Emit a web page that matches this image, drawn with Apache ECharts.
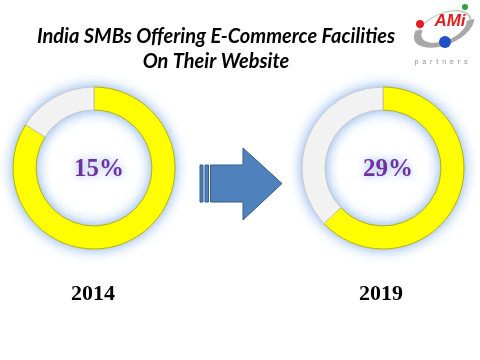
<!DOCTYPE html>
<html><head><meta charset="utf-8">
<script src="https://cdn.jsdelivr.net/npm/echarts@6/dist/echarts.min.js"></script>
<style>html,body{margin:0;padding:0;background:#fff}#c{width:480px;height:360px}</style>
</head><body><div id="c"></div>
<script>
// Data
const years = ['2014', '2019'];
const pctLabels = ['15%', '29%'];
// arc shares as drawn in picture (yellow, grey)
const yellowShare = [84, 63];
const greyShare = [16, 37];
const titleLines = ['India SMBs Offering E-Commerce Facilities', 'On Their Website'];

const centers = [[94, 168], [383, 168]];
const chart = echarts.init(document.getElementById('c'));
const series = [];
years.forEach((y, i) => {
  series.push({
    type: 'pie', silent: true, radius: [58, 81], center: centers[i], startAngle: 90,
    label: {show: false}, z: 1,
    itemStyle: {color: '#ffffff', shadowBlur: 14, shadowColor: 'rgba(90,150,230,0.85)'},
    data: [{value: 1, name: 'glow'}]
  });
  series.push({
    type: 'pie', silent: true, radius: [58, 81], center: centers[i], startAngle: 90, clockwise: true,
    label: {show: false}, z: 2,
    data: [
      {value: yellowShare[i], name: 'Yes', itemStyle: {color: '#ffff00', borderColor: '#b8b000', borderWidth: 1}},
      {value: greyShare[i], name: 'No', itemStyle: {color: '#f2f2f2', borderColor: '#c8c8c8', borderWidth: 1}}
    ]
  });
});

const titleStyle = {fontFamily: 'Lato', fontStyle: 'italic', fontWeight: 'bold', fontSize: 20, color: '#000'};
const titles = [
  {text: titleLines[0], left: 211, top: 22, textAlign: 'center', textStyle: titleStyle},
  {text: titleLines[1], left: 211, top: 47, textAlign: 'center', textStyle: titleStyle}
];
years.forEach((y, i) => {
  titles.push({text: pctLabels[i], left: centers[i][0], top: centers[i][1] - 16, textAlign: 'center',
    textStyle: {fontFamily: 'Liberation Serif', fontWeight: 'bold', fontSize: 25, color: '#7030a0',
      textShadowColor: 'rgba(120,160,230,0.9)', textShadowBlur: 8}});
  titles.push({text: y, left: [88, 376][i], top: 278, textAlign: 'center',
    textStyle: {fontFamily: 'Liberation Serif', fontWeight: 'bold', fontSize: 22, color: '#000'}});
});

const graphic = [
  // arrow
  {type: 'rect', shape: {x: 200, y: 165, width: 3, height: 37}, style: {fill: '#4f81bd', stroke: '#385d8a', lineWidth: 1}},
  {type: 'rect', shape: {x: 205, y: 165, width: 3.5, height: 37}, style: {fill: '#4f81bd', stroke: '#385d8a', lineWidth: 1}},
  {type: 'polygon', shape: {points: [[210.5,165],[243,165],[243,148],[282,183.5],[243,220],[243,202],[210.5,202]]},
   style: {fill: '#4f81bd', stroke: '#385d8a', lineWidth: 1}},
  // logo swoosh (thick lower part, thin upper part)
  {type: 'arc', x: 444, y: 28, rotation: 0.4, scaleY: 0.52,
   shape: {cx: 0, cy: 0, r: 28, startAngle: 0.2, endAngle: 3.7, clockwise: true},
   style: {stroke: '#a8a8a8', lineWidth: 8, fill: null}},
  {type: 'arc', x: 444, y: 28, rotation: 0.4, scaleY: 0.52,
   shape: {cx: 0, cy: 0, r: 28, startAngle: 3.7, endAngle: 6.5, clockwise: true},
   style: {stroke: '#c0c0c0', lineWidth: 2, fill: null}},
  {type: 'circle', shape: {cx: 420, cy: 24, r: 4}, style: {fill: '#e02020'}},
  {type: 'circle', shape: {cx: 465, cy: 7, r: 3}, style: {fill: '#30a040'}},
  {type: 'circle', shape: {cx: 445, cy: 42, r: 6}, style: {fill: '#2050c8'}},
  {type: 'text', x: 450, y: 21, style: {text: 'AMi', fontFamily: 'Liberation Sans', fontWeight: 'bold', fontStyle: 'italic', fontSize: 17, fill: '#e02020', align: 'center', verticalAlign: 'middle'}},
  {type: 'text', x: 441, y: 62, style: {text: 'p  a  r  t  n  e  r  s', fontFamily: 'Liberation Sans', fontSize: 7, fill: '#909090', align: 'center', verticalAlign: 'middle'}}
];

chart.setOption({backgroundColor: '#fff', animation: false, title: titles, series: series, graphic: graphic});
</script></body></html>
